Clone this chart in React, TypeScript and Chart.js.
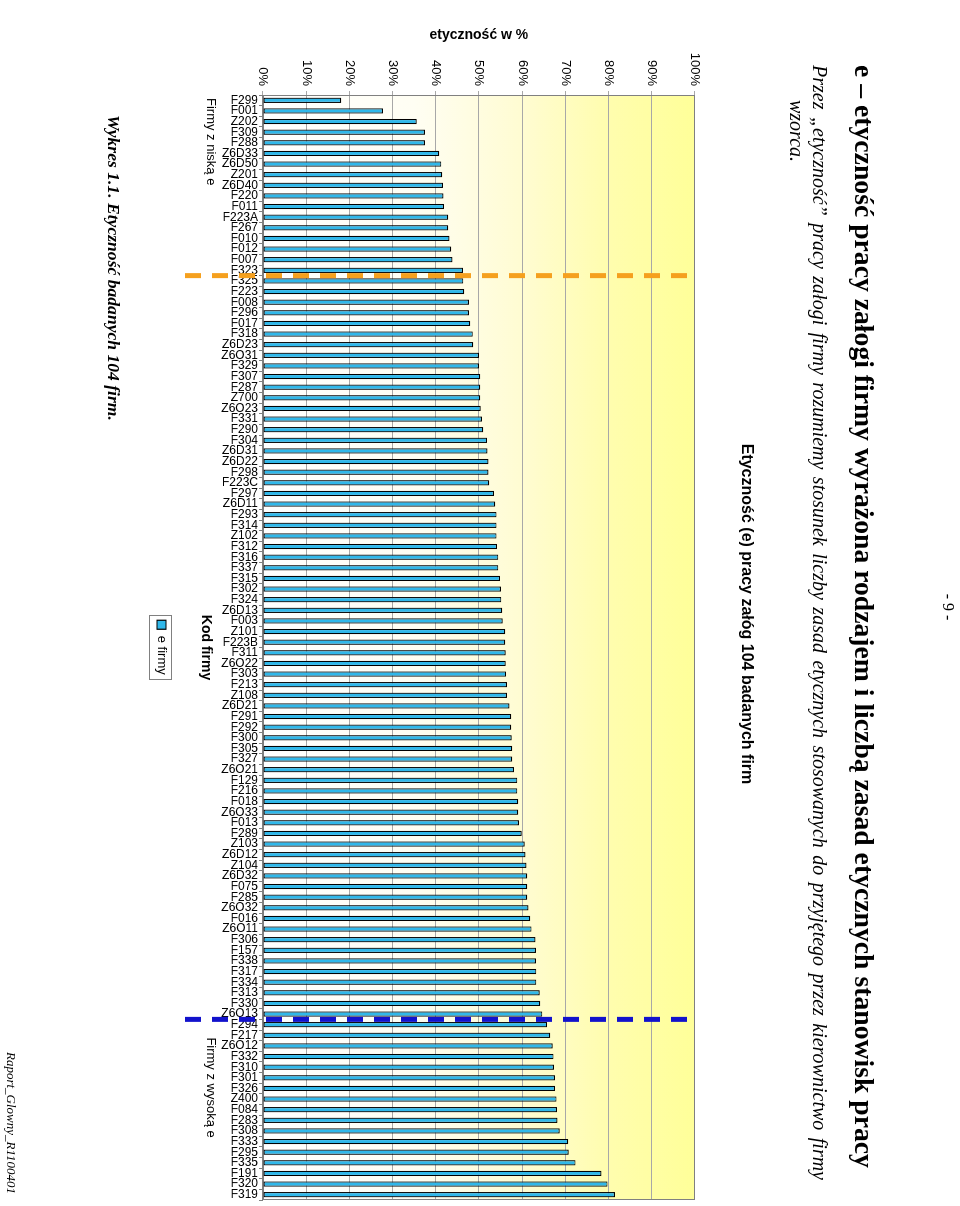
import React, { useEffect, useRef } from 'react';
import { Chart, registerables } from 'chart.js';

Chart.register(...registerables);

const firmCodes = [
  'F299', 'F001', 'Z202', 'F309', 'F288', 'Z6D33', 'Z6D50', 'Z201', 'Z6D40', 'F220',
  'F011', 'F223A', 'F267', 'F010', 'F012', 'F007', 'F323', 'F325', 'F223', 'F008',
  'F296', 'F017', 'F318', 'Z6D23', 'Z6O31', 'F329', 'F307', 'F287', 'Z700', 'Z6O23',
  'F331', 'F290', 'F304', 'Z6D31', 'Z6D22', 'F298', 'F223C', 'F297', 'Z6D11', 'F293',
  'F314', 'Z102', 'F312', 'F316', 'F337', 'F315', 'F302', 'F324', 'Z6D13', 'F003',
  'Z101', 'F223B', 'F311', 'Z6O22', 'F303', 'F213', 'Z108', 'Z6D21', 'F291', 'F292',
  'F300', 'F305', 'F327', 'Z6O21', 'F129', 'F216', 'F018', 'Z6O33', 'F013', 'F289',
  'Z103', 'Z6D12', 'Z104', 'Z6D32', 'F075', 'F285', 'Z6O32', 'F016', 'Z6O11', 'F306',
  'F157', 'F338', 'F317', 'F334', 'F313', 'F330', 'Z6O13', 'F294', 'F217', 'Z6O12',
  'F332', 'F310', 'F301', 'F326', 'Z400', 'F084', 'F283', 'F308', 'F333', 'F295',
  'F335', 'F191', 'F320', 'F319',
];

const ethicsValues = [
  18.1, 27.8, 35.6, 37.5, 37.5, 40.8, 41.3, 41.5, 41.7, 41.8,
  41.9, 42.9, 42.9, 43.2, 43.6, 43.9, 46.3, 46.4, 46.6, 47.7,
  47.7, 48.0, 48.6, 48.7, 50.0, 50.0, 50.3, 50.3, 50.3, 50.4,
  50.7, 51.0, 51.9, 52.0, 52.2, 52.2, 52.4, 53.5, 53.8, 54.1,
  54.1, 54.1, 54.2, 54.5, 54.5, 54.9, 55.1, 55.2, 55.4, 55.5,
  56.1, 56.1, 56.2, 56.2, 56.3, 56.5, 56.5, 57.1, 57.5, 57.5,
  57.6, 57.7, 57.7, 58.1, 58.9, 58.9, 59.1, 59.1, 59.3, 59.9,
  60.6, 60.8, 61.0, 61.2, 61.2, 61.2, 61.5, 61.9, 62.2, 63.1,
  63.2, 63.2, 63.3, 63.3, 64.1, 64.2, 64.7, 65.8, 66.5, 67.1,
  67.3, 67.4, 67.6, 67.6, 68.0, 68.1, 68.2, 68.7, 70.7, 70.8,
  72.4, 78.4, 79.8, 81.5,
];

const valueTickLabels = ['0%', '10%', '20%', '30%', '40%', '50%', '60%', '70%', '80%', '90%', '100%'];

const lowGroupSize = 17;
const highGroupStart = 87;

const seriesLabel = 'e firmy';
const chartTitle = 'Etyczność (e) pracy załóg 104 badanych firm';
const valueAxisTitle = 'etyczność w %';
const categoryAxisTitle = 'Kod firmy';
const lowGroupLabel = 'Firmy z niską e';
const highGroupLabel = 'Firmy z wysoką e';

const pageNumber = '- 9 -';
const heading = 'e – etyczność pracy załogi firmy wyrażona rodzajem i liczbą zasad etycznych stanowisk pracy';
const introLine1 = 'Przez „etyczność” pracy załogi firmy rozumiemy stosunek liczby zasad etycznych stosowanych do przyjętego przez kierownictwo firmy';
const introLine2 = 'wzorca.';
const caption = 'Wykres 1.1. Etyczność badanych 104 firm.';
const footer = 'Raport_Glowny_R1100401';

const SANS = '"Liberation Sans", Arial, sans-serif';

const plotBackground = {
  id: 'plotBackground',
  afterLayout(chart: any) {
    const t = chart.titleBlock;
    if (t) {
      t.left += 14;
      t.right += 14;
    }
  },
  beforeDraw(chart: any) {
    const { ctx, chartArea: a } = chart;
    const g = ctx.createLinearGradient(0, a.bottom, 0, a.top);
    g.addColorStop(0, '#FFFFFF');
    g.addColorStop(0.35, '#FFFEF3');
    g.addColorStop(0.6, '#FFFCD2');
    g.addColorStop(0.8, '#FFFDAE');
    g.addColorStop(1, '#FFFF99');
    ctx.save();
    ctx.fillStyle = g;
    ctx.fillRect(a.left, a.top, a.right - a.left, a.bottom - a.top);
    ctx.restore();
  },
  beforeDatasetsDraw(chart: any) {
    const { ctx, chartArea: a } = chart;
    ctx.save();
    ctx.strokeStyle = '#808080';
    ctx.lineWidth = 1;
    ctx.strokeRect(Math.round(a.left) + 0.5, Math.round(a.top) + 0.5, Math.round(a.right - a.left) - 1, Math.round(a.bottom - a.top) - 1);
    ctx.restore();
  },
};

const groupMarkers = {
  id: 'groupMarkers',
  afterDatasetsDraw(chart: any) {
    const { ctx, chartArea: a } = chart;
    const xs = chart.scales.x;
    const between = (i: number) => (xs.getPixelForValue(i - 1) + xs.getPixelForValue(i)) / 2;
    const drawLine = (x: number, color: string) => {
      ctx.save();
      ctx.strokeStyle = color;
      ctx.lineWidth = 5;
      ctx.setLineDash([16, 11]);
      ctx.beginPath();
      ctx.moveTo(x, a.bottom + 78);
      ctx.lineTo(x, a.top + 2);
      ctx.stroke();
      ctx.restore();
    };
    const xLow = between(lowGroupSize);
    const xHigh = between(highGroupStart);
    drawLine(xLow, '#F5A01E');
    drawLine(xHigh, '#1212CC');
    ctx.save();
    ctx.fillStyle = '#000';
    ctx.font = '13px ' + SANS;
    ctx.textBaseline = 'middle';
    ctx.textAlign = 'left';
    ctx.fillText(lowGroupLabel, a.left + 3, a.bottom + 52);
    ctx.fillText(highGroupLabel, xHigh + 18, a.bottom + 52);
    ctx.restore();
  },
  afterDraw(chart: any) {
    const hb = chart.legend && chart.legend.legendHitBoxes && chart.legend.legendHitBoxes[0];
    if (!hb) return;
    const { ctx } = chart;
    ctx.save();
    ctx.strokeStyle = '#808080';
    ctx.lineWidth = 1;
    const cy = hb.top + hb.height / 2;
    ctx.strokeRect(Math.round(hb.left - 5) + 0.5, Math.round(cy - 11) + 0.5, Math.round(hb.width + 9), 22);
    ctx.restore();
  },
};

function EthicsChart() {
  const canvasRef = useRef<HTMLCanvasElement | null>(null);

  useEffect(() => {
    if (!canvasRef.current) return;
    Chart.defaults.font.family = SANS;
    Chart.defaults.color = '#000';
    const chart = new Chart(canvasRef.current, {
      type: 'bar',
      data: {
        labels: firmCodes,
        datasets: [
          {
            label: seriesLabel,
            data: ethicsValues,
            backgroundColor: '#30B8EA',
            borderColor: '#000000',
            borderWidth: 1.2,
            borderSkipped: false,
            barPercentage: 0.5,
            categoryPercentage: 1,
          } as any,
        ],
      },
      options: {
        responsive: false,
        animation: false,
        devicePixelRatio: 1,
        events: [],
        layout: { padding: { left: 0, right: 6, top: 0, bottom: 0 } },
        scales: {
          x: {
            type: 'category',
            offset: true,
            grid: { display: true, drawOnChartArea: false, drawTicks: true, tickLength: 4, color: '#808080', offset: true },
            border: { display: true, color: '#808080' },
            ticks: { autoSkip: false, minRotation: 90, maxRotation: 90, padding: 1, font: { size: 12 }, color: '#000' },
            title: { display: true, text: categoryAxisTitle, font: { size: 14, weight: 'bold' }, color: '#000', padding: { top: 0, bottom: 9 } },
            afterFit(scale: any) {
              scale.height = 75;
              scale.paddingLeft = 0;
              scale.paddingRight = 0;
            },
          },
          y: {
            min: 0,
            max: 100,
            ticks: {
              stepSize: 10,
              callback: (_v: any, i: number) => valueTickLabels[i],
              font: { size: 13 },
              color: '#000',
              padding: 5,
            },
            grid: { color: '#A8A8A8', drawTicks: true, tickLength: 4 },
            border: { color: '#808080' },
            title: { display: true, text: valueAxisTitle, font: { size: 14, weight: 'bold' }, color: '#000', padding: { top: 27, bottom: 0 } },
            afterFit(scale: any) {
              scale.width = 95;
              scale.paddingTop = 0;
              scale.paddingBottom = 0;
            },
          },
        },
        plugins: {
          title: {
            display: true,
            text: chartTitle,
            font: { size: 16, weight: 'bold' },
            color: '#000',
            padding: { top: 14, bottom: 42 },
          },
          legend: {
            display: true,
            position: 'bottom',
            fullSize: false,
            labels: { boxWidth: 9, boxHeight: 9, font: { size: 13 }, color: '#000', padding: 20 },
          },
          tooltip: { enabled: false },
        },
      } as any,
      plugins: [plotBackground, groupMarkers],
    });
    return () => chart.destroy();
  }, []);

  return <canvas ref={canvasRef} width={1206} height={625} style={{ position: 'absolute', left: 0, top: 190, width: 1206, height: 625 }} />;
}

export default function App() {
  useEffect(() => {
    document.documentElement.style.overflow = 'hidden';
    document.body.style.overflow = 'hidden';
    document.body.style.margin = '0';
  }, []);

  const abs = (left: number, top: number, extra: React.CSSProperties = {}): React.CSSProperties => ({
    position: 'absolute',
    left,
    top,
    whiteSpace: 'nowrap',
    margin: 0,
    ...extra,
  });

  return (
    <div
      style={{
        position: 'fixed',
        left: 0,
        top: 0,
        width: 1206,
        height: 960,
        transformOrigin: '0 0',
        transform: 'translateX(960px) rotate(90deg)',
        background: '#fff',
        fontFamily: '"Liberation Serif", "Times New Roman", serif',
        color: '#000',
        overflow: 'hidden',
      }}
    >
      <div style={abs(0, 2, { width: 1214, textAlign: 'center', fontSize: 16, lineHeight: '20px' })}>{pageNumber}</div>
      <div style={abs(65, 80, { fontSize: 27.7, lineHeight: '32px', fontWeight: 'bold' })}>{heading}</div>
      <div
        style={abs(65, 129, {
          width: 1115,
          fontSize: 20,
          lineHeight: '23px',
          fontStyle: 'italic',
          textAlign: 'justify',
          textAlignLast: 'justify',
          whiteSpace: 'normal',
        } as React.CSSProperties)}
      >
        {introLine1}
      </div>
      <div style={abs(100, 152, { fontSize: 20, lineHeight: '23px', fontStyle: 'italic' })}>{introLine2}</div>
      <EthicsChart />
      <div style={abs(115, 835, { fontSize: 17.6, lineHeight: '22px', fontWeight: 'bold', fontStyle: 'italic' })}>{caption}</div>
      <div style={abs(1052, 941, { fontSize: 13, lineHeight: '16px', fontStyle: 'italic' })}>{footer}</div>
    </div>
  );
}
